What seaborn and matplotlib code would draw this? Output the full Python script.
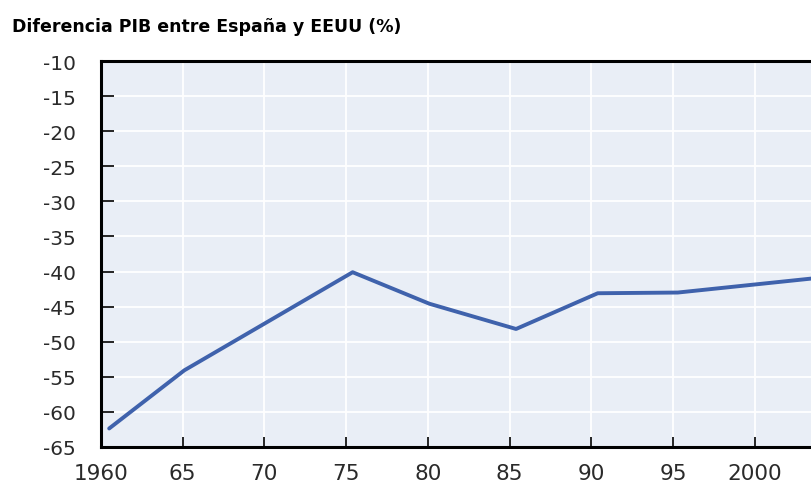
import pandas as pd
import seaborn as sns
import matplotlib.pyplot as plt

# diferencia del PIB entre España y EEUU (%)
years = [1960.5, 1965.1, 1975.4, 1980.1, 1985.4, 1990.4, 1995.3, 2003.5]
gap = [-62.4, -54.1, -40.1, -44.6, -48.2, -43.1, -43.0, -41.0]

xticks = [1960, 1965, 1970, 1975, 1980, 1985, 1990, 1995, 2000]
xlabels = ['1960', '65', '70', '75', '80', '85', '90', '95', '2000']
yticks = [-10, -15, -20, -25, -30, -35, -40, -45, -50, -55, -60, -65]

title = 'Diferencia PIB entre España y EEUU (%)'

df = pd.DataFrame({'year': years, 'gap': gap})

sns.set_theme(style='darkgrid', rc={
    'axes.facecolor': '#E9EEF6',
    'grid.color': 'white',
    'grid.linewidth': 1.3,
})
plt.rcParams['font.family'] = ['DejaVu Sans']

fig = plt.figure(figsize=(8.11, 4.85), dpi=100)
# axes box placed to match the reference (right edge cut by the image)
ax = fig.add_axes([101 / 811, 1 - 447.7 / 485, 710 / 811, 385.4 / 485])

sns.lineplot(data=df, x='year', y='gap', ax=ax, color='#3F62AC',
             linewidth=2.8, sort=False, solid_capstyle='round')

ax.set_xlim(1960, 2003.45)
ax.set_ylim(-65, -10)
ax.set_xticks(xticks)
ax.set_xticklabels(xlabels)
ax.set_yticks(yticks)
ax.set_yticklabels([str(v) for v in yticks])
ax.set_xlabel('')
ax.set_ylabel('')

for side in ['left', 'bottom', 'top']:
    ax.spines[side].set_visible(True)
    ax.spines[side].set_color('black')
    ax.spines[side].set_linewidth(2.2)
ax.spines['right'].set_visible(False)

ax.tick_params(axis='y', direction='in', length=9.5, width=1.2,
               color='black', pad=18, labelsize=14.5, labelcolor='#2a2a2a',
               left=True)
ax.tick_params(axis='x', direction='in', length=7, width=1.2,
               color='black', pad=11.5, labelsize=15.5, labelcolor='#2a2a2a',
               bottom=True)

fig.text(12 / 811, 1 - 32 / 485, title, fontsize=12.5, fontweight='bold',
         color='black', ha='left', va='baseline')

fig.savefig('out.png', dpi=100)
